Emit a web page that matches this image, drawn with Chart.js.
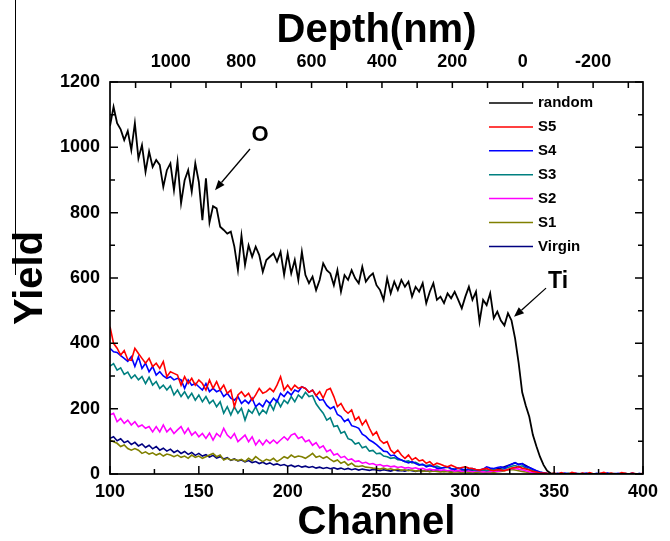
<!DOCTYPE html>
<html><head><meta charset="utf-8">
<script src="https://cdn.jsdelivr.net/npm/chart.js@4/dist/chart.umd.min.js"></script>
<style>html,body{margin:0;padding:0;background:#fff;}canvas{display:block;}</style>
</head><body>
<canvas id="c" width="670" height="541"></canvas>
<script>
// ---------------- data ----------------
const channels = [
100,102,104,106,108,110,112,114,116,118,
120,122,124,126,128,130,132,134,136,138,
140,142,144,146,148,150,152,154,156,158,
160,162,164,166,168,170,172,174,176,178,
180,182,184,186,188,190,192,194,196,198,
200,202,204,206,208,210,212,214,216,218,
220,222,224,226,228,230,232,234,236,238,
240,242,244,246,248,250,252,254,256,258,
260,262,264,266,268,270,272,274,276,278,
280,282,284,286,288,290,292,294,296,298,
300,302,304,306,308,310,312,314,316,318,
320,322,324,326,328,330,332,334,336,338,
340,342,344,346,348,350,352,354,356,358,
360,362,364,366,368,370,372,374,376,378,
380,382,384,386,388,390,392,394,396,398,
400];

const random = [
1065,1124,1074,1055,1022,1050,992,1074,966,1007,
925,987,940,961,946,879,930,951,869,956,
829,899,930,864,951,894,777,905,770,820,
813,757,747,736,742,696,624,730,640,700,
665,696,670,619,655,665,675,650,680,610,
675,614,655,594,680,609,584,604,563,594,
645,624,614,578,624,558,609,594,624,599,
584,634,589,604,614,578,563,533,599,553,
589,563,594,573,589,543,573,558,584,523,
558,584,533,543,523,553,538,558,533,507,
543,573,533,558,466,533,517,553,477,497,
470,455,492,470,415,340,250,210,175,120,
85,53,28,10,2,0,0,0,0,0,
0,0,0,0,0,0,0,0,0,0,
0,0,0,0,0,0,0,0,0,0,
0];

const s5 = [
451,400,385,364,378,350,348,385,369,354,
339,354,329,339,323,344,298,313,308,303,
272,298,277,293,272,288,277,257,288,262,
283,257,272,247,257,206,242,252,237,247,
226,242,262,247,252,262,252,272,298,257,
272,257,272,262,267,262,250,257,240,252,
232,257,262,237,206,216,196,186,196,165,
175,150,165,140,119,129,104,94,99,73,
63,73,58,48,58,43,50,40,43,33,
38,27,33,30,25,22,27,22,17,20,
22,18,17,14,12,15,17,12,10,13,
12,10,14,18,20,22,18,15,12,8,
6,4,3,2,1,3,0,4,1,0,
5,2,0,3,0,4,1,0,2,5,
0,3,1,0,4,2,0,3,1,0,
2];

const s4 = [
385,374,372,362,354,345,359,329,359,323,
339,313,329,303,313,300,293,298,288,293,
288,262,288,272,277,267,257,277,252,262,
252,257,237,247,232,226,237,216,226,216,
232,206,216,206,226,216,232,221,247,237,
252,242,257,252,267,262,250,257,240,226,
228,210,200,206,182,176,160,168,148,145,
140,122,115,104,98,90,80,70,68,56,
58,48,43,38,34,38,32,27,30,22,
25,24,18,17,20,22,16,14,18,15,
12,16,17,13,12,15,22,18,17,20,
22,18,25,30,35,28,32,22,20,15,
10,6,4,2,1,0,2,0,3,1,
0,2,1,0,3,1,0,2,0,1,
3,0,1,2,0,1,0,2,0,1,
0];

const s3 = [
330,338,318,325,305,312,293,303,288,298,
277,296,272,283,262,272,257,270,242,257,
237,252,232,247,226,242,221,237,216,226,
206,221,186,206,181,206,186,201,165,196,
186,206,181,196,186,216,196,226,206,226,
216,237,221,242,232,250,237,240,215,200,
186,165,172,145,148,125,130,108,104,92,
96,80,84,70,72,62,64,55,53,48,
50,44,43,38,40,34,36,30,28,26,
28,22,24,20,19,21,17,15,18,14,
12,15,13,11,10,13,10,12,15,12,
14,16,20,24,26,22,25,18,14,10,
7,4,2,1,0,0,1,0,0,2,
0,0,1,0,0,1,0,0,0,1,
0,2,0,0,1,0,0,1,0,0,
0];

const s2 = [
181,186,160,170,155,165,150,160,145,150,
140,145,129,145,129,150,129,140,124,135,
145,124,140,119,129,114,124,109,125,104,
124,114,140,119,109,124,99,109,119,99,
114,89,104,89,104,94,104,94,104,114,
104,119,124,109,114,99,104,88,96,80,
86,68,74,58,62,50,54,43,46,38,
40,33,36,30,32,27,29,24,26,22,
24,20,22,18,20,17,19,15,17,13,
15,12,14,11,13,10,12,9,11,8,
10,9,7,9,8,6,8,7,9,8,
10,12,14,16,18,15,13,10,7,5,
3,2,1,0,0,0,0,1,0,0,
0,1,0,0,0,0,0,0,1,0,
0,0,0,0,1,0,0,0,0,0,
0];

const s1 = [
104,99,94,84,89,78,73,78,73,63,
68,61,65,58,63,55,61,58,53,58,
51,55,48,58,51,55,48,53,58,63,
53,58,43,48,43,45,41,45,38,48,
41,53,45,38,45,41,48,38,45,53,
48,58,51,55,53,48,55,63,51,55,
48,53,45,38,43,33,38,27,33,24,
23,25,21,20,18,17,15,18,14,16,
12,15,11,13,10,12,9,11,8,10,
7,9,8,6,8,7,5,7,6,5,
7,5,6,4,6,5,4,6,5,7,
8,10,12,14,12,10,8,6,4,3,
2,1,0,0,0,0,0,0,0,0,
0,0,0,0,0,0,0,0,0,0,
0,0,0,0,0,0,0,0,0,0,
0];

const virgin = [
109,114,102,108,96,101,90,97,86,92,
81,88,77,84,73,79,70,76,66,72,
63,69,60,66,57,63,55,59,52,57,
49,53,46,50,42,46,40,43,37,41,
35,38,32,36,30,34,28,31,26,29,
24,27,22,26,21,24,20,23,18,21,
17,20,16,19,15,18,14,17,13,16,
12,15,13,11,14,12,10,13,11,9,
12,10,11,9,12,10,8,11,9,10,
8,11,9,10,8,10,9,11,8,10,
9,11,10,12,10,13,11,14,12,16,
18,22,26,30,34,30,32,26,20,14,
9,5,3,1,0,1,0,2,0,1,
0,1,0,2,0,1,0,0,1,0,
2,0,1,0,0,1,0,2,0,1,
0];

const seriesNames  = ['random', 'S5', 'S4', 'S3', 'S2', 'S1', 'Virgin'];
const seriesValues = [random, s5, s4, s3, s2, s1, virgin];
const seriesColors = ['#000000', '#ff0000', '#0000ff', '#008080', '#ff00ff', '#808000', '#000080'];

const channelTicks  = [100,125,150,175,200,225,250,275,300,325,350,375,400];
const channelLabels = [100,150,200,250,300,350,400];
const yieldTicks    = [0,100,200,300,400,500,600,700,800,900,1000,1100,1200];
const yieldLabels   = [0,200,400,600,800,1000,1200];
const depthTicks    = [1100,1000,900,800,700,600,500,400,300,200,100,0,-100,-200,-300];
const depthLabels   = [1000,800,600,400,200,0,-200];
const depthAtCh100 = 1172.7;
const depthAtCh400 = -341.7;

const annotations = [
  {text: 'O',  at: [184.4, 1038], from: [178.8, 995], to: [159.1, 869], size: 22},
  {text: 'Ti', at: [352.2, 588],  from: [345.4, 569], to: [327.4, 481], size: 23}
];

// ---------------- drawing ----------------
const FONT = '"Liberation Sans", Arial, Helvetica, sans-serif';

const decor = {
  id: 'decor',
  afterDatasetsDraw(chart) {
    const {ctx, chartArea: a, scales} = chart;
    const x = scales.x, x2 = scales.x2, y = scales.y;
    ctx.save();
    ctx.strokeStyle = '#000';
    ctx.lineWidth = 1.5;
    ctx.beginPath();
    x.ticks.forEach(t => {
      const p = x.getPixelForValue(t.value);
      const L = t.label ? 8 : 5;
      ctx.moveTo(p, a.bottom); ctx.lineTo(p, a.bottom - L);
    });
    x2.ticks.forEach(t => {
      const p = x2.getPixelForValue(t.value);
      ctx.moveTo(p, a.top); ctx.lineTo(p, a.top + 6);
    });
    y.ticks.forEach(t => {
      const p = y.getPixelForValue(t.value);
      const L = t.label ? 8 : 5;
      ctx.moveTo(a.left, p); ctx.lineTo(a.left + L, p);
      ctx.moveTo(a.right, p); ctx.lineTo(a.right - L, p);
    });
    ctx.stroke();
    ctx.lineWidth = 1.7;
    ctx.strokeRect(a.left, a.top, a.right - a.left, a.bottom - a.top);
    ctx.lineWidth = 1;
    ctx.beginPath(); ctx.moveTo(15.5, 0); ctx.lineTo(15.5, 275); ctx.stroke();

    ctx.font = 'bold 15px ' + FONT;
    ctx.textAlign = 'left';
    ctx.textBaseline = 'middle';
    chart.data.datasets.forEach((ds, i) => {
      const yy = 103 + i * 23.9;
      ctx.strokeStyle = ds.borderColor;
      ctx.lineWidth = 1.5;
      ctx.beginPath(); ctx.moveTo(489, yy); ctx.lineTo(533, yy); ctx.stroke();
      ctx.fillStyle = '#000';
      ctx.fillText(ds.label, 538, yy);
    });

    annotations.forEach(an => {
      const x1 = x.getPixelForValue(an.from[0]), y1 = y.getPixelForValue(an.from[1]);
      const xe = x.getPixelForValue(an.to[0]),   ye = y.getPixelForValue(an.to[1]);
      const ang = Math.atan2(ye - y1, xe - x1);
      const hl = 10, hw = 4;
      const bx = xe - hl * Math.cos(ang), by = ye - hl * Math.sin(ang);
      ctx.strokeStyle = '#000'; ctx.fillStyle = '#000'; ctx.lineWidth = 1.3;
      ctx.beginPath(); ctx.moveTo(x1, y1); ctx.lineTo(bx, by); ctx.stroke();
      ctx.beginPath();
      ctx.moveTo(xe, ye);
      ctx.lineTo(bx + hw * Math.sin(ang), by - hw * Math.cos(ang));
      ctx.lineTo(bx - hw * Math.sin(ang), by + hw * Math.cos(ang));
      ctx.closePath(); ctx.fill();
      ctx.font = 'bold ' + an.size + 'px ' + FONT;
      ctx.textAlign = 'center'; ctx.textBaseline = 'middle';
      ctx.fillText(an.text, x.getPixelForValue(an.at[0]), y.getPixelForValue(an.at[1]));
    });
    ctx.restore();
  }
};

const tickFont = {family: FONT, size: 18, weight: 'bold'};

new Chart(document.getElementById('c'), {
  type: 'line',
  data: {
    datasets: seriesNames.map((name, i) => ({
      label: name,
      data: channels.map((c, j) => ({x: c, y: seriesValues[i][j]})),
      borderColor: seriesColors[i],
      backgroundColor: seriesColors[i],
      borderWidth: i === 0 ? 1.8 : 1.6,
      pointRadius: 0,
      tension: 0,
      fill: false
    }))
  },
  options: {
    responsive: false,
    animation: false,
    devicePixelRatio: 1,
    layout: {padding: {left: 0, right: 27, top: 0, bottom: 0}},
    plugins: {legend: {display: false}, tooltip: {enabled: false}},
    scales: {
      x: {
        type: 'linear', position: 'bottom', min: 100, max: 400,
        afterBuildTicks: s => { s.ticks = channelTicks.map(v => ({value: v})); },
        afterFit: s => { s.height = 67; },
        grid: {display: false, drawTicks: false},
        border: {display: false},
        ticks: {autoSkip: false, maxRotation: 0, minRotation: 0, padding: 7, color: '#000', font: tickFont,
                callback: v => channelLabels.includes(v) ? String(v) : ''},
        title: {display: true, text: 'Channel', color: '#000', padding: {top: 0, bottom: 0},
                font: {family: FONT, size: 40, weight: 'bold', lineHeight: 0.9}}
      },
      x2: {
        type: 'linear', axis: 'x', position: 'top', reverse: true,
        min: depthAtCh400, max: depthAtCh100,
        afterBuildTicks: s => { s.ticks = depthTicks.map(v => ({value: v})); },
        afterFit: s => { s.height = 82; },
        grid: {display: false, drawTicks: false},
        border: {display: false},
        ticks: {autoSkip: false, maxRotation: 0, minRotation: 0, padding: 9, color: '#000', font: tickFont,
                callback: v => depthLabels.includes(v) ? String(v) : ''},
        title: {display: true, text: 'Depth(nm)', color: '#000', padding: {top: 11, bottom: 0},
                font: {family: FONT, size: 40, weight: 'bold', lineHeight: 1}}
      },
      y: {
        type: 'linear', position: 'left', min: 0, max: 1200,
        afterBuildTicks: s => { s.ticks = yieldTicks.map(v => ({value: v})); },
        afterFit: s => { s.width = 110; },
        grid: {display: false, drawTicks: false},
        border: {display: false},
        ticks: {autoSkip: false, padding: 10, color: '#000', font: tickFont,
                callback: v => yieldLabels.includes(v) ? String(v) : ''},
        title: {display: true, text: 'Yield', color: '#000', padding: {top: 11, bottom: 0},
                font: {family: FONT, size: 40, weight: 'bold', lineHeight: 1}}
      }
    }
  },
  plugins: [decor]
});
</script>
</body></html>
